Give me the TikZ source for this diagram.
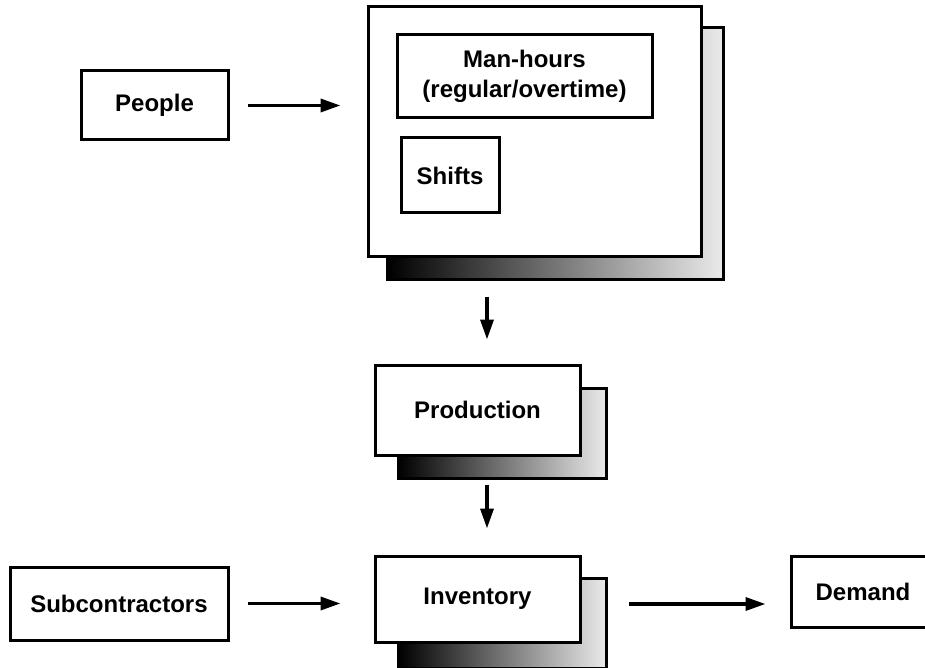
\documentclass[tikz,border=0pt]{standalone}
\usepackage{fontspec}
\setmainfont{Liberation Sans}
\usetikzlibrary{arrows.meta,backgrounds}
\begin{document}
\begin{tikzpicture}[x=1pt,y=-1pt,
  box/.style={draw, line width=3pt, fill=white, inner sep=0pt, align=center,
    font=\bfseries\fontsize{24}{30}\selectfont},
  shadowbox/.style={draw, line width=3pt, left color=black, right color=black!8},
  arr/.style={line width=3.5pt, -{Triangle[length=20pt,width=13pt]}}]
\useasboundingbox (0,0) rectangle (925,668);
% nodes
\node[box, minimum width=147pt, minimum height=69pt] (people) at (154.5,105.5) {People};
\node[box, minimum width=333pt, minimum height=249pt] (big) at (534.5,131.5) {};
\node[box, minimum width=255pt, minimum height=83pt] (man) at (524.5,76.5) {Man-hours\\(regular/overtime)};
\node[box, minimum width=98pt, minimum height=75pt] (shifts) at (450,175.5) {Shifts};
\node[box, minimum width=205pt, minimum height=90pt] (prod) at (477.5,410) {Production};
\node[box, minimum width=205pt, minimum height=86pt] (inv) at (477.5,599) {Inventory};
\node[box, minimum width=218pt, minimum height=73pt] (sub) at (119,603.5) {Subcontractors};
\node[box, minimum width=144pt, minimum height=71pt] (dem) at (863,591.5) {Demand};
% shadows
\begin{scope}[on background layer]
  \path[shadowbox] ([shift={(21,22)}]big.north west) rectangle ([shift={(21,22)}]big.south east);
  \path[shadowbox] ([shift={(25,25)}]prod.north west) rectangle ([shift={(25,22)}]prod.south east);
  \path[shadowbox] ([shift={(25,24)}]inv.north west) rectangle ([shift={(25,25)}]inv.south east);
\end{scope}
% connectors
\coordinate (ax) at (487,0);
\draw[arr, shorten <=18pt, shorten >=26pt] (people.east) -- (people.east -| big.west);
\draw[arr, shorten <=39pt, shorten >=24pt] (big.south -| ax) -- (prod.north -| ax);
\draw[arr, shorten <=28pt, shorten >=26pt] (prod.south -| ax) -- (inv.north -| ax);
\draw[arr, shorten <=18pt, shorten >=33pt] (sub.east) -- (sub.east -| inv.west);
\draw[arr, shorten <=47pt, shorten >=24pt] ([yshift=-5pt]inv.east) -- ([yshift=-5pt]inv.east -| dem.west);
\end{tikzpicture}
\end{document}
